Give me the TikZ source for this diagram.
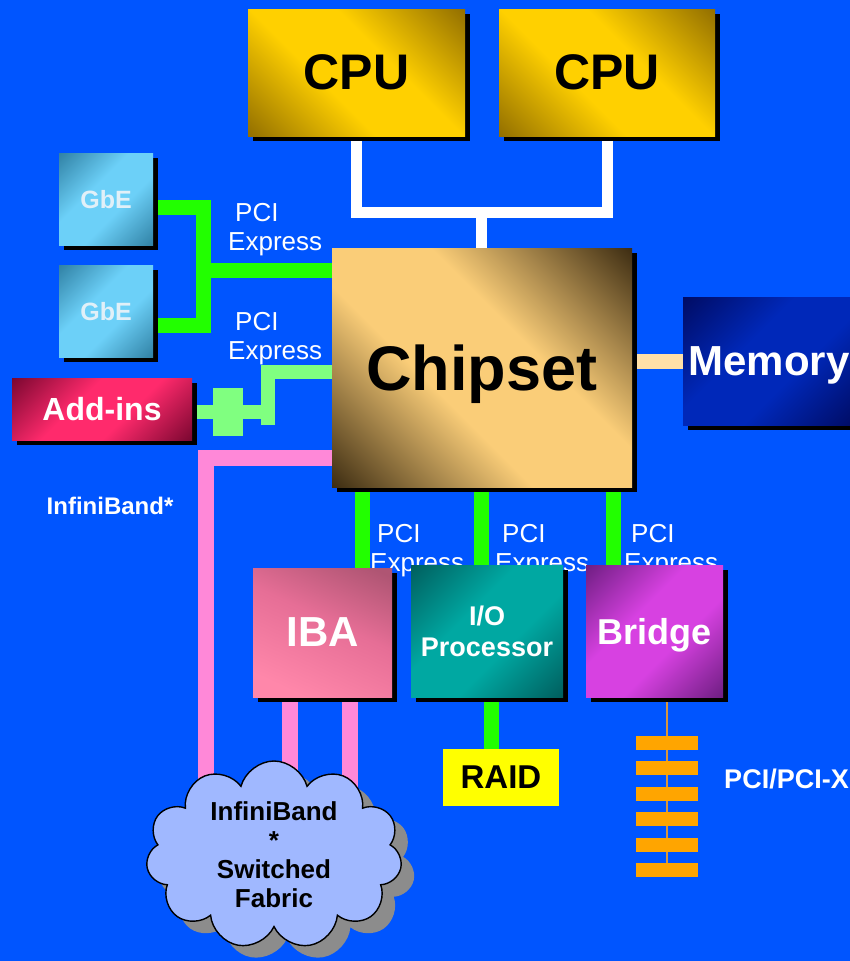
\documentclass[tikz,border=0pt]{standalone}
\usepackage{fontspec}
\setmainfont{Liberation Sans}
\usetikzlibrary{shadows,shapes.symbols,calc}
\definecolor{bg}{RGB}{0,85,255}
\definecolor{gwirec}{RGB}{34,255,0}
\definecolor{lgwirec}{RGB}{128,255,128}
\definecolor{pwirec}{RGB}{255,136,216}
\definecolor{peach}{RGB}{255,224,168}
\definecolor{busorange}{RGB}{255,165,0}
\definecolor{buslinec}{RGB}{215,150,60}
\definecolor{cloudblue}{RGB}{160,184,255}
\definecolor{cloudshadow}{RGB}{140,140,140}
\definecolor{raidyellow}{RGB}{255,255,0}
\definecolor{cpudark}{RGB}{140,105,0}
\definecolor{cpulight}{RGB}{255,208,0}
\definecolor{chipdark}{RGB}{50,35,12}
\definecolor{chiplight}{RGB}{250,205,120}
\definecolor{memdark}{RGB}{0,10,95}
\definecolor{memlight}{RGB}{0,40,185}
\definecolor{gbedark}{RGB}{45,125,160}
\definecolor{gbelight}{RGB}{108,208,248}
\definecolor{addark}{RGB}{115,5,45}
\definecolor{adlight}{RGB}{255,42,108}
\definecolor{ibadark}{RGB}{175,85,115}
\definecolor{ibamid}{RGB}{230,110,150}
\definecolor{ibalight}{RGB}{255,135,170}
\definecolor{iodark}{RGB}{0,90,90}
\definecolor{iolight}{RGB}{0,168,162}
\definecolor{brdark}{RGB}{105,28,125}
\definecolor{brlight}{RGB}{215,65,225}
\definecolor{gbetext}{RGB}{225,240,248}
\newcommand{\myfs}[2]{\fontsize{#1}{#2}\selectfont}
\newcommand{\declboxshade}[3]{%
  \pgfdeclarehorizontalshading{#1}{100bp}{color(0bp)=(#2); color(13bp)=(#2);
    color(41bp)=(#3); color(59bp)=(#3); color(87bp)=(#2); color(100bp)=(#2)}}
\declboxshade{cpushade}{cpudark}{cpulight}
\declboxshade{chipshade}{chipdark}{chiplight}
\declboxshade{memshade}{memdark}{memlight}
\declboxshade{gbeshade}{gbedark}{gbelight}
\declboxshade{adshade}{addark}{adlight}
\declboxshade{ioshade}{iodark}{iolight}
\declboxshade{brshade}{brdark}{brlight}
\pgfdeclareverticalshading{ibashade}{100bp}{color(0bp)=(ibalight); color(25bp)=(ibalight);
  color(55bp)=(ibamid); color(80bp)=(ibadark); color(100bp)=(ibadark)}
\pgfdeclarelayer{bglayer}
\pgfdeclarelayer{wires}
\pgfsetlayers{bglayer,wires,main}
\begin{document}
\begin{tikzpicture}[x=1pt,y=-1pt,
  box/.style={inner sep=0pt, outer sep=0pt, align=center,
    drop shadow={shadow xshift=5pt, shadow yshift=-5pt, fill=black, opacity=1}},
  nodepth/.style={text depth=0pt},
  whitewire/.style={draw=white, line width=11pt},
  gwire/.style={draw=gwirec, line width=15pt},
  lgwire/.style={draw=lgwirec, line width=14pt},
  pwire/.style={draw=pwirec, line width=16pt},
  peachwire/.style={draw=peach, line width=15pt},
  buswire/.style={draw=buslinec, line width=1.6pt},
  pcilabel/.style={text=white, font=\myfs{26}{29}, align=left, inner sep=0pt, anchor=base west},
  whitelabel/.style={text=white, font=\bfseries\myfs{24}{28}, inner sep=0pt, nodepth},
  busbar/.style={fill=busorange, minimum width=62pt, minimum height=14pt, inner sep=0pt, outer sep=0pt}
]
\begin{pgfonlayer}{bglayer}
  \fill[bg] (0,0) rectangle (850,961);
\end{pgfonlayer}
\useasboundingbox (0,0) rectangle (850,961);

% boxes
\node[box, minimum width=217pt, minimum height=127pt, shading=cpushade, shading angle=45,
  font=\bfseries\myfs{50}{60}, text=black, nodepth] (cpu1) at (356.5,72.5) {CPU};
\node[box, minimum width=216pt, minimum height=127pt, shading=cpushade, shading angle=45,
  font=\bfseries\myfs{50}{60}, text=black, nodepth] (cpu2) at (607,72.5) {CPU};
\node[box, minimum width=300pt, minimum height=239pt, shading=chipshade, shading angle=45,
  font=\bfseries\myfs{63}{70}, text=black, nodepth] (chipset) at (482,367.5) {Chipset};
\node[box, minimum width=172pt, minimum height=128pt, shading=memshade, shading angle=-45,
  font=\bfseries\myfs{42}{50}, text=white, nodepth] (memory) at (769,361) {Memory};
\node[box, minimum width=94pt, minimum height=92pt, shading=gbeshade, shading angle=-45,
  font=\bfseries\myfs{25}{30}, text=gbetext, nodepth] (gbe1) at (106,199) {GbE};
\node[box, minimum width=94pt, minimum height=92pt, shading=gbeshade, shading angle=-45,
  font=\bfseries\myfs{25}{30}, text=gbetext, nodepth] (gbe2) at (106,311) {GbE};
\node[box, minimum width=180pt, minimum height=62pt, shading=adshade, shading angle=-45,
  font=\bfseries\myfs{32}{38}, text=white, nodepth] (addins) at (102,409) {Add-ins};
\node[box, minimum width=139pt, minimum height=129pt, shading=ibashade, shading angle=-25,
  font=\bfseries\myfs{42}{50}, text=white, nodepth] (iba) at (322.5,632.5) {IBA};
\node[box, minimum width=152pt, minimum height=132pt, shading=ioshade, shading angle=-45,
  font=\bfseries\myfs{27}{31}, text=white] (io) at (487,631) {I/O\\Processor};
\node[box, minimum width=137pt, minimum height=132pt, shading=brshade, shading angle=-45,
  font=\bfseries\myfs{36}{42}, text=white, nodepth] (bridge) at (654.5,631) {Bridge};
\node[fill=raidyellow, inner sep=0pt, minimum width=116pt, minimum height=57pt,
  font=\bfseries\myfs{33}{38}, text=black, nodepth] (raid) at (501,777.5) {RAID};

% PCI/PCI-X bus bars
\foreach \i/\yy in {1/743,2/768.4,3/793.8,4/819.2,5/844.6,6/870}
  \node[busbar] (bar\i) at (667,\yy) {};

% cloud
\node[cloud, cloud puffs=11, aspect=1.36, fill=cloudblue, draw=black, line width=1.4pt,
  minimum width=256pt, minimum height=188pt, inner sep=0pt,
  drop shadow={shadow xshift=13pt, shadow yshift=-12pt, fill=cloudshadow, opacity=1}] (cloud) at (274,855) {};
\node[font=\bfseries\myfs{26}{29}, align=center, inner sep=0pt, text=black] (cloudtext) at (cloud.center) {InfiniBand\\*\\Switched\\Fabric};

% free labels
\node[whitelabel] (iblabel) at (110,506) {InfiniBand*};
\node[whitelabel, font=\bfseries\myfs{27}{30}] (pcixlabel) at (786.5,779) {PCI/PCI-X};

% coordinates
\coordinate (cpuj) at (481.5,212);
\coordinate (gy1) at (0,207);
\coordinate (gy2) at (0,325);
\coordinate (gj) at (203,270);
\coordinate (ay) at (0,412);
\coordinate (aj) at (268,372);
\coordinate (py) at (0,458);
\coordinate (pinkend) at (206,800);

\begin{pgfonlayer}{wires}
  % CPU bus
  \draw[whitewire] (cpu1.south) |- (cpuj) -| (cpu2.south);
  \draw[whitewire] (cpuj) -- (cpuj |- chipset.north);
  % GbE
  \draw[gwire] (gbe1.east |- gy1) -| (gj) |- (gbe2.east |- gy2);
  \draw[gwire] (gj) -- (gj -| chipset.west);
  % Add-ins
  \draw[lgwire] (addins.east |- ay) -| (aj) -- (aj -| chipset.west);
  \draw[lgwire] (aj) -- ++(0,53);
  \fill[lgwirec] (213,388) rectangle (243,436);
  % InfiniBand
  \draw[pwire] (chipset.west |- py) -| (pinkend);
  \draw[pwire] ($(iba.south)+(-32.5,0)$) -- ++(0,100);
  \draw[pwire] ($(iba.south)+(27.5,0)$) -- ++(0,100);
  % Memory
  \draw[peachwire] (memory.west) -- (memory.west -| chipset.east);
  % chipset down
  \draw[gwire] ($(chipset.south)+(-120,0)$) -- ++(0,90);
  \draw[gwire] ($(chipset.south)+(-1,0)$) -- ++(0,90);
  \draw[gwire] ($(chipset.south)+(131,0)$) -- ++(0,90);
  % RAID
  \draw[gwire] ($(io.south)+(4,0)$) -- ($(raid.north)+(-10,0)$);
  % PCI bus
  \draw[buswire] ($(bridge.south)+(12.5,0)$) -- (bar6.center);
  % PCI Express labels (anchored at the baseline of the last line)
  \node[pcilabel] (pcie1) at (228,250) {\hspace*{7pt}PCI\\Express};
  \node[pcilabel] (pcie2) at (228,359) {\hspace*{7pt}PCI\\Express};
  \node[pcilabel] (pcie3) at (370,571) {\hspace*{7pt}PCI\\Express};
  \node[pcilabel] (pcie4) at (495,571) {\hspace*{7pt}PCI\\Express};
  \node[pcilabel] (pcie5) at (624,571) {\hspace*{7pt}PCI\\Express};
\end{pgfonlayer}
\end{tikzpicture}
\end{document}
